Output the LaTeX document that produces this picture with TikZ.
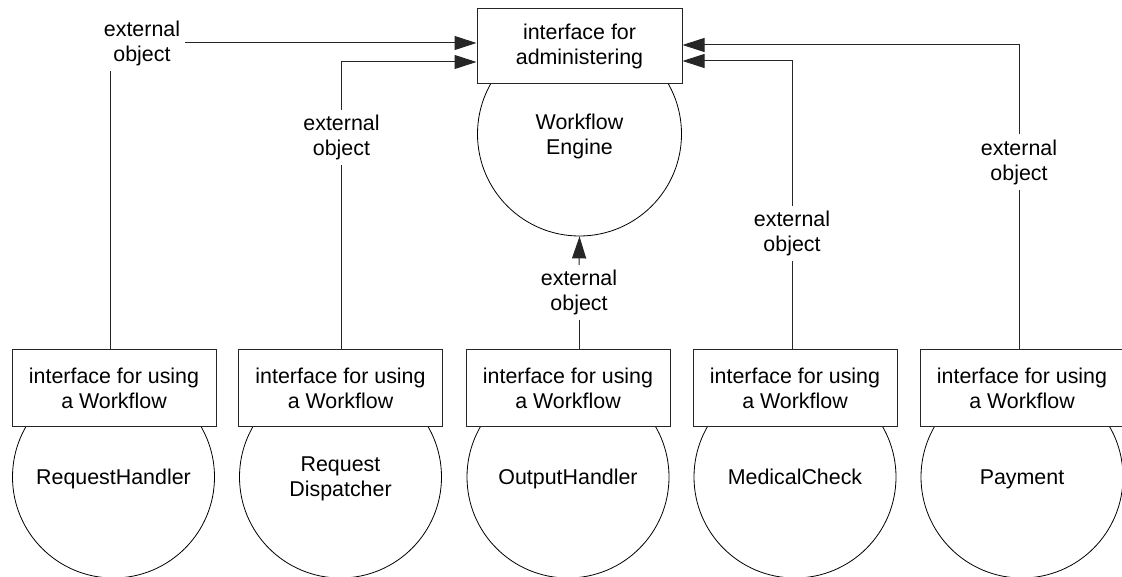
\documentclass[tikz,border=0pt]{standalone}
\usepackage{fontspec}
\setmainfont{Liberation Sans}
\usetikzlibrary{arrows.meta}
\begin{document}
\begin{tikzpicture}[x=1pt,y=-1pt,
  txt/.style={font=\fontsize{21.4}{25}\selectfont, align=center},
  iface/.style={txt, draw=black!85, line width=1pt, fill=white,
    minimum width=204pt, minimum height=76pt, inner sep=0pt},
  comp/.style={txt, draw=black, line width=0.8pt, circle,
    minimum size=202pt, inner sep=0pt, text depth=0pt},
  tag/.style={txt, inner sep=5pt},
  wire/.style={draw=black!85, line width=1pt},
  tip/.style={-{Triangle[length=22pt,width=14pt]}}]
\useasboundingbox (0,0) rectangle (1122,577);
\clip (0,0) rectangle (1122,577);

% engine and its administration interface
\node[comp, minimum size=204pt] (engine) at (579.5,134) {Workflow\\Engine};
\node[iface, minimum width=205pt, minimum height=75pt] (admin) at (579.5,46.5)
  {interface for\\administering};
\coordinate (aw1) at ([yshift=3.5pt]admin.west);
\coordinate (aw2) at ([yshift=-15.5pt]admin.west);
\coordinate (ae1) at ([yshift=1.5pt]admin.east);
\coordinate (ae2) at ([yshift=-14.5pt]admin.east);

% components with their usage interfaces
\node[comp] (c1) at (113.5,477) {RequestHandler};
\node[comp] (c2) at (340.5,477) {Request\\Dispatcher};
\node[comp] (c3) at (568,477) {OutputHandler};
\node[comp] (c4) at (795,477) {MedicalCheck};
\node[comp] (c5) at (1022,477) {Payment};
\node[iface] (u1) at (114,388) {interface for using\\a Workflow};
\node[iface] (u2) at (340.5,388) {interface for using\\a Workflow};
\node[iface] (u3) at (568,388) {interface for using\\a Workflow};
\node[iface] (u4) at (795,388) {interface for using\\a Workflow};
\node[iface] (u5) at (1022,388) {interface for using\\a Workflow};

% connector labels
\node[tag] (lab1) at (142,43) {external\\object};
\node[tag] (lab2) at (341.5,137.5) {external\\object};
\node[tag] (lab3) at (579,292.5) {external\\object};
\node[tag] (lab4) at (792,233.5) {external\\object};
\node[tag] (lab5) at (1019,162) {external\\object};

% connectors
\draw[wire] ([xshift=-4pt]u1.north) -- ([xshift=-4pt]u1.north |- lab1.south);
\draw[wire,tip] (lab1.east |- aw1) -- (aw1);

\draw[wire] (u2.north -| lab2) -- (lab2.south);
\draw[wire,tip] (lab2.north) |- (aw2);

\draw[wire] (u3.north -| lab3) -- (lab3.south);
\draw[wire,tip] (lab3.north) -- (engine.south);

\draw[wire] (u4.north -| lab4) -- (lab4.south);
\draw[wire,tip] (lab4.north) |- (ae2);

\draw[wire] (u5.north -| lab5) -- (lab5.south);
\draw[wire,tip] (lab5.north) |- (ae1);
\end{tikzpicture}
\end{document}
